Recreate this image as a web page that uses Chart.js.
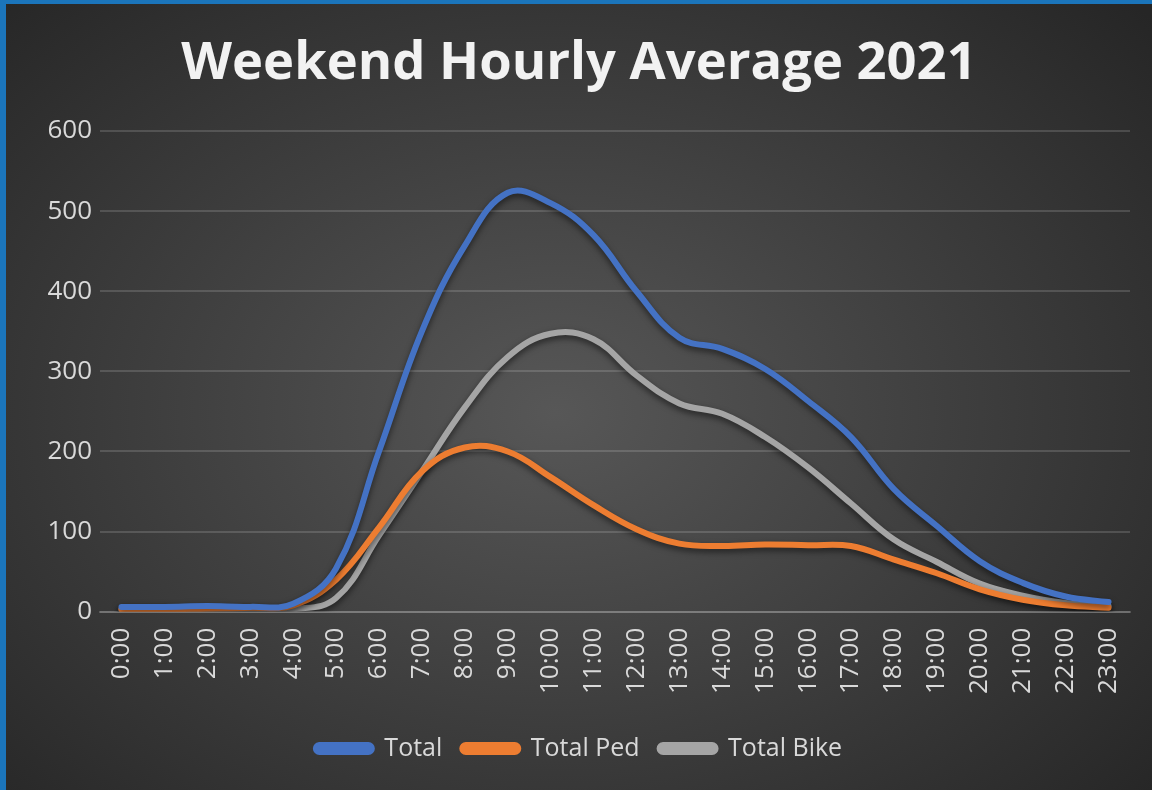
<!DOCTYPE html>
<html>
<head>
<meta charset="utf-8">
<script src="https://cdn.jsdelivr.net/npm/chart.js@4.4.1/dist/chart.umd.min.js"></script>
<style>
  html, body { margin: 0; padding: 0; }
  body {
    width: 1152px; height: 790px; overflow: hidden;
    background: #1b75bb;
  }
  #wrap {
    position: absolute; left: 6px; top: 4px; width: 1146px; height: 786px;
    background: radial-gradient(ellipse 70% 75% at 48% 52%, #575757 0%, #3c3c3c 55%, #262626 100%);
  }
</style>
</head>
<body>
<div id="wrap"><canvas id="chart"></canvas></div>
<script>
// Horas do dia (eixo X)
const hours = ['0:00','1:00','2:00','3:00','4:00','5:00','6:00','7:00','8:00','9:00','10:00','11:00',
               '12:00','13:00','14:00','15:00','16:00','17:00','18:00','19:00','20:00','21:00','22:00','23:00'];

// Valores
const totalValues = [6, 6, 7, 6, 10, 54, 200, 350, 457, 523, 510, 470, 400, 342, 328, 303, 263, 218, 153, 107, 63, 36, 19, 12];
const pedValues   = [3, 3, 4, 5, 8, 40, 105, 175, 205, 200, 168, 133, 103, 85, 82, 84, 83, 82, 65, 48, 28, 15, 8, 5];
const bikeValues  = [3, 3, 3, 2, 3, 17, 95, 175, 255, 318, 347, 340, 295, 260, 247, 218, 180, 135, 90, 62, 35, 20, 11, 7];

const yTicks = [0, 100, 200, 300, 400, 500, 600];

// sombra suave embaixo das linhas
const shadowPlugin = {
  id: 'lineShadow',
  beforeDatasetsDraw(chart) {
    const ctx = chart.ctx;
    ctx.save();
    ctx.shadowColor = 'rgba(0,0,0,0.55)';
    ctx.shadowBlur = 6;
    ctx.shadowOffsetY = 3;
  },
  afterDatasetsDraw(chart) {
    chart.ctx.restore();
  }
};

function makeSet(label, data, color) {
  return {
    label: label,
    data: data,
    borderColor: color,
    backgroundColor: color,
    borderWidth: 6,
    pointRadius: 0,
    tension: 0.4,
    borderCapStyle: 'round',
    fill: false
  };
}

const ctx = document.getElementById('chart').getContext('2d');
new Chart(ctx, {
  type: 'line',
  data: {
    labels: hours,
    datasets: [
      makeSet('Total', totalValues, '#4472c4'),
      makeSet('Total Ped', pedValues, '#ed7d31'),
      makeSet('Total Bike', bikeValues, '#a5a5a5')
    ]
  },
  options: {
    responsive: true,
    maintainAspectRatio: false,
    animation: false,
    layout: { padding: { left: 22, right: 22, top: 0, bottom: 19 } },
    scales: {
      x: {
        offset: true,
        grid: { display: false, offset: false },
        border: { display: true, color: 'rgba(255,255,255,0.18)', width: 2 },
        afterFit(scale) {
          scale.height += 14;
          scale.paddingLeft = 0;
          scale.paddingRight = 0;
        },
        ticks: {
          color: '#d9d9d9',
          font: { family: 'Open Sans', size: 26 },
          minRotation: 90, maxRotation: 90,
          padding: 8
        }
      },
      y: {
        min: 0, max: 600,
        afterBuildTicks(scale) { scale.ticks = yTicks.map(v => ({ value: v })); },
        afterFit(scale) { scale.width = 72; },
        grid: { color: 'rgba(255,255,255,0.15)', lineWidth: 2, drawTicks: false },
        border: { display: false },
        ticks: {
          color: '#d9d9d9',
          font: { family: 'Open Sans', size: 26 },
          padding: 8
        }
      }
    },
    plugins: {
      title: {
        display: true,
        text: 'Weekend Hourly Average 2021',
        color: '#f2f2f2',
        font: { family: 'Open Sans', size: 52.5, weight: 'bold' },
        padding: { top: 29, bottom: 35 }
      },
      legend: {
        position: 'bottom',
        labels: {
          color: '#d9d9d9',
          font: { family: 'Open Sans', size: 25 },
          boxWidth: 56,
          boxHeight: 7,
          useBorderRadius: true,
          borderRadius: 3.5,
          padding: 20
        }
      },
      tooltip: { enabled: false }
    }
  },
  plugins: [shadowPlugin]
});
</script>
</body>
</html>
